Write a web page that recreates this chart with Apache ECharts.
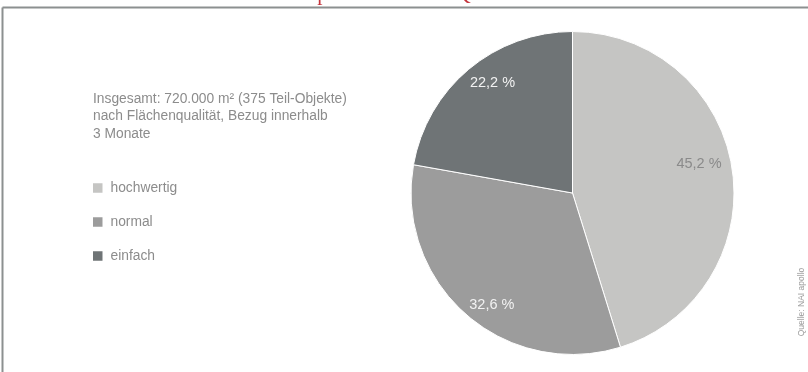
<!DOCTYPE html>
<html>
<head>
<meta charset="utf-8">
<script src="https://cdn.jsdelivr.net/npm/echarts@6/dist/echarts.min.js"></script>
<style>
  html, body { margin: 0; padding: 0; background: #ffffff; }
  #chart { width: 808px; height: 372px; }
</style>
</head>
<body>
<div id="chart"></div>
<script>
// Flächenqualität shares (percent)
const categories = ['hochwertig', 'normal', 'einfach'];
const shares = [45.2, 32.6, 22.2];

const introLines = [
  'Insgesamt: 720.000 m² (375 Teil-Objekte)',
  'nach Flächenqualität, Bezug innerhalb',
  '3 Monate'
];
const headline = 'Flächenumsatz pro Monat nach Qualität';
const sourceNote = 'Quelle: NAI apollo';

// styling
const sliceColors = ['#c5c5c3', '#9c9c9c', '#6f7476'];
const labelColors = ['#8a8a8a', '#f2f2f2', '#f2f2f2'];
// small nudges of the percentage labels inside their slices [dx, dy]
const labelNudge = [[-9, -8], [10, 9], [8, -5]];
const sansFont = '"Liberation Sans", Arial, sans-serif';

const fmt = v => v.toFixed(1).replace('.', ',') + ' %';

const pieCenter = [572.5, 193];
const pieRadius = 161.5;

const sliceData = categories.map((name, i) => ({
  name: name,
  value: shares[i],
  itemStyle: { color: sliceColors[i] }
}));

const labelData = categories.map((name, i) => ({
  name: name,
  value: shares[i],
  label: { color: labelColors[i] }
}));

const chart = echarts.init(document.getElementById('chart'), null, { renderer: 'canvas' });

chart.setOption({
  animation: false,
  backgroundColor: '#ffffff',
  legend: {
    orient: 'vertical',
    left: 93,
    top: 181,
    padding: 0,
    itemWidth: 9.5,
    itemHeight: 9.5,
    itemGap: 20,
    icon: 'rect',
    itemStyle: { borderWidth: 0 },
    data: categories,
    textStyle: { color: '#8c8c8c', fontSize: 13.8, fontFamily: sansFont, padding: [0, 0, 0, 3] }
  },
  graphic: [
    // frame lines
    { type: 'line', shape: { x1: 2.5, y1: 7.5, x2: 808, y2: 7.5 }, style: { stroke: '#8c9090', lineWidth: 2 }, silent: true },
    { type: 'line', shape: { x1: 2.5, y1: 7.5, x2: 2.5, y2: 372 }, style: { stroke: '#8c9090', lineWidth: 2 }, silent: true },
    // headline (sits above the frame)
    { type: 'text', x: 186, y: -16, z: -1, style: { text: headline, fill: '#c4343c', font: '21px "Liberation Serif", serif' }, silent: true },
    // intro text
    { type: 'text', x: 93, y: 90, style: { text: introLines.join('\n'), fill: '#8c8c8c', font: '13.8px ' + sansFont, lineHeight: 17.5 }, silent: true },
    // source note, rotated
    { type: 'text', x: 801.5, y: 302, rotation: Math.PI / 2, style: { text: sourceNote, fill: '#9a9a9a', font: '8.5px ' + sansFont, align: 'center', verticalAlign: 'middle' }, silent: true }
  ],
  series: [
    {
      type: 'pie',
      center: pieCenter,
      radius: [0, pieRadius],
      startAngle: 90,
      clockwise: true,
      label: { show: false },
      labelLine: { show: false },
      itemStyle: { borderColor: '#ffffff', borderWidth: 1 },
      emphasis: { disabled: true },
      data: sliceData
    },
    {
      type: 'pie',
      center: pieCenter,
      radius: [pieRadius * 0.66, pieRadius],
      startAngle: 90,
      clockwise: true,
      silent: true,
      legendHoverLink: false,
      itemStyle: { color: 'rgba(0,0,0,0)' },
      label: {
        show: true,
        position: 'inside',
        fontSize: 14.5,
        fontFamily: sansFont,
        formatter: p => fmt(p.value)
      },
      labelLayout: p => ({ dx: labelNudge[p.dataIndex][0], dy: labelNudge[p.dataIndex][1] }),
      labelLine: { show: false },
      emphasis: { disabled: true },
      data: labelData
    }
  ]
});
</script>
</body>
</html>
